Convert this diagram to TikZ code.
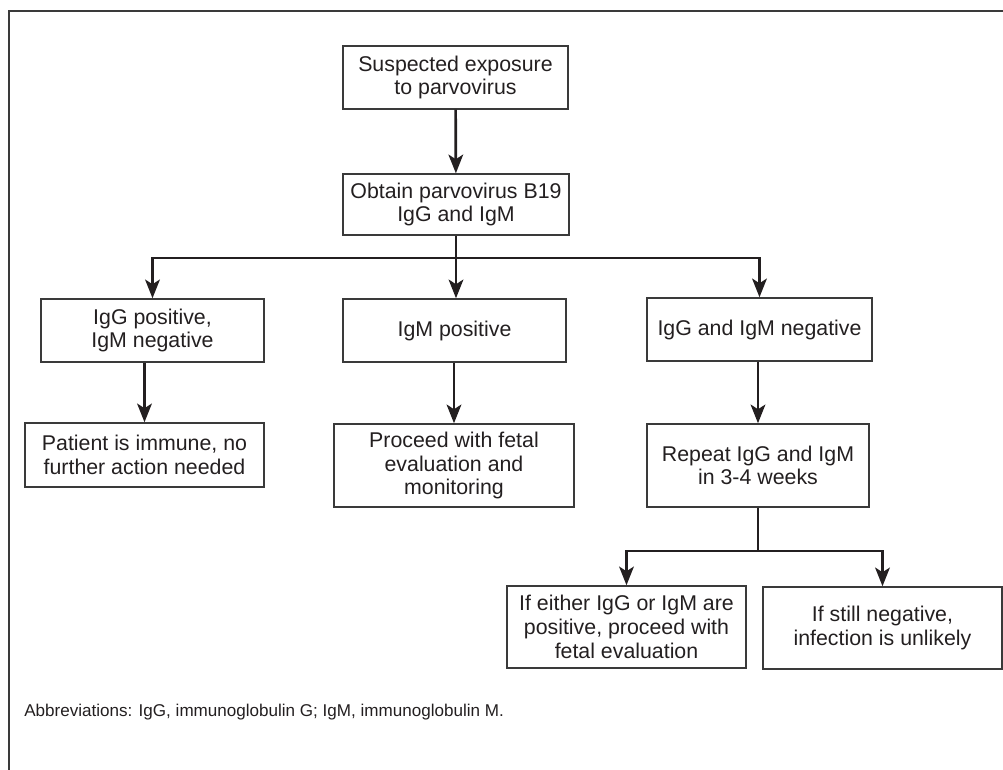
\documentclass[tikz,border=0pt]{standalone}
\usepackage{fontspec}
\setmainfont{Liberation Sans}
\usetikzlibrary{arrows.meta}
\definecolor{ink}{HTML}{231F20}
\definecolor{edge}{HTML}{3A3A3A}
\begin{document}
\begin{tikzpicture}[x=0.75pt,y=-0.75pt,
  box/.style={draw=edge,line width=1.1pt,text=ink,align=center,inner sep=0pt,
    font=\fontsize{16}{17.8}\selectfont},
  conn/.style={draw=ink,line width=2pt},
  arr/.style={conn,-{Stealth[length=14pt,width=11pt,inset=3.5pt]}}]
\useasboundingbox (0,0) rectangle (1003,770);
\draw[edge,line width=1.5pt] (9,790) -- (9,11) -- (1020,11);

\node[box,minimum width=168.75pt,minimum height=47.25pt] (b1) at (455.5,77.5) {Suspected exposure\\to parvovirus};
\node[box,minimum width=169.5pt,minimum height=45.75pt] (b2) at (456,204.5) {Obtain parvovirus B19\\IgG and IgM};
\node[box,minimum width=167.25pt,minimum height=47.25pt] (l1) at (152.5,330.5) {IgG positive,\\IgM negative};
\node[box,minimum width=167.25pt,minimum height=47.25pt] (m1) at (454.5,330.5) {IgM positive};
\node[box,minimum width=168.75pt,minimum height=47.25pt] (r1) at (759.5,329.5) {IgG and IgM negative};
\node[box,minimum width=179.25pt,minimum height=48pt] (l2) at (144.5,455) {Patient is immune, no\\further action needed};
\node[box,minimum width=180pt,minimum height=62.25pt] (m2) at (454,465.5) {Proceed with fetal\\evaluation and\\monitoring};
\node[box,minimum width=166.5pt,minimum height=62.25pt] (r2) at (758,465.5) {Repeat IgG and IgM\\in 3-4 weeks};
\node[box,minimum width=179.25pt,minimum height=61.5pt] (c1) at (626.5,627) {If either IgG or IgM are\\positive, proceed with\\fetal evaluation};
\node[box,minimum width=179.25pt,minimum height=61.5pt] (c2) at (882.5,628) {If still negative,\\infection is unlikely};

\node[anchor=west,text=ink,inner sep=0pt,font=\fontsize{12.8}{14}\selectfont] (abbr) at (24,712) {Abbreviations: IgG, immunoglobulin G; IgM, immunoglobulin M.};

\coordinate (bar) at (456,258);
\coordinate (split) at (758,551);

\draw[arr] (b1) -- (b2);
\draw[conn] (b2.south) -- (bar);
\draw[arr] (bar) -| (l1.north);
\draw[arr] (bar) -| (r1.north);
\draw[arr] (bar) -- (bar |- m1.north);
\draw[arr] (l1.south -| l2.north) -- (l2.north);
\draw[arr] (m1.south -| m2.north) -- (m2.north);
\draw[arr] (r1.south -| r2.north) -- (r2.north);
\draw[conn] (r2.south) -- (split);
\draw[arr] (split) -| (c1.north);
\draw[arr] (split) -| (c2.north);
\end{tikzpicture}
\end{document}
